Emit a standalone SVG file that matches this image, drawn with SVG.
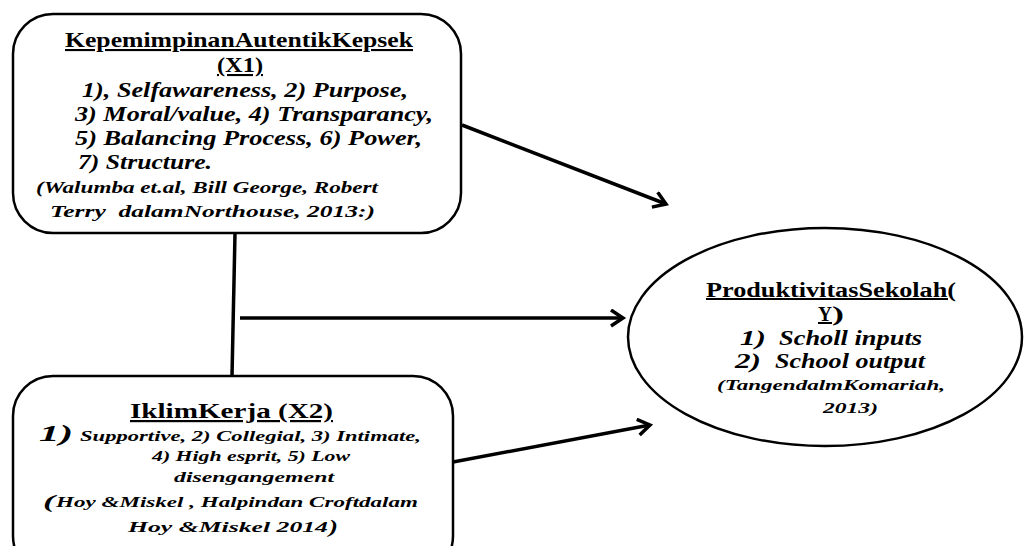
<svg xmlns="http://www.w3.org/2000/svg" width="1025" height="546" viewBox="0 0 1025 546">
<defs>
<marker id="ah" markerUnits="userSpaceOnUse" markerWidth="20" markerHeight="20" refX="14" refY="9" orient="auto">
<path d="M2,1 L14,9 L2,17" fill="none" stroke="#000" stroke-width="3.5"/>
</marker>
</defs>
<rect width="1025" height="546" fill="#fff"/>
<g id="connectors" fill="none" stroke="#000" stroke-width="3.5">
<line x1="235" y1="233" x2="232" y2="376"/>
<line x1="240" y1="318" x2="623" y2="318" marker-end="url(#ah)"/>
<line x1="462" y1="125" x2="666" y2="204" marker-end="url(#ah)"/>
<line x1="453" y1="462" x2="650" y2="425" marker-end="url(#ah)"/>
</g>
<g id="x1">
<rect x="13" y="14" width="448" height="219" rx="40" fill="#fff" stroke="#000" stroke-width="2.5"/>
<text x="65" y="47" font-family="Liberation Serif" font-weight="bold" font-size="21" text-decoration="underline" textLength="348" lengthAdjust="spacingAndGlyphs">KepemimpinanAutentikKepsek</text>
<text x="217" y="72" font-family="Liberation Serif" font-weight="bold" font-size="21" text-decoration="underline" textLength="46" lengthAdjust="spacingAndGlyphs">(X1)</text>
<text x="82" y="97" font-family="Liberation Serif" font-weight="bold" font-style="italic" font-size="20" textLength="326" lengthAdjust="spacingAndGlyphs">1), Selfawareness, 2) Purpose,</text>
<text x="75" y="121" font-family="Liberation Serif" font-weight="bold" font-style="italic" font-size="20" textLength="358" lengthAdjust="spacingAndGlyphs">3) Moral/value, 4) Transparancy,</text>
<text x="75" y="145" font-family="Liberation Serif" font-weight="bold" font-style="italic" font-size="20" textLength="347" lengthAdjust="spacingAndGlyphs">5) Balancing Process, 6) Power,</text>
<text x="78" y="169" font-family="Liberation Serif" font-weight="bold" font-style="italic" font-size="20" textLength="134" lengthAdjust="spacingAndGlyphs">7) Structure.</text>
<text x="36" y="193" font-family="Liberation Serif" font-weight="bold" font-style="italic" font-size="16" textLength="342" lengthAdjust="spacingAndGlyphs">(Walumba et.al, Bill George, Robert</text>
<text x="50" y="217" font-family="Liberation Serif" font-weight="bold" font-style="italic" font-size="16" textLength="325" lengthAdjust="spacingAndGlyphs" xml:space="preserve">Terry  dalamNorthouse, 2013:)</text>
</g>
<g id="x2">
<rect x="13" y="376" width="440" height="200" rx="40" fill="#fff" stroke="#000" stroke-width="2.5"/>
<text x="130" y="418" font-family="Liberation Serif" font-weight="bold" font-size="22" text-decoration="underline" textLength="203" lengthAdjust="spacingAndGlyphs">IklimKerja (X2)</text>
<text x="39" y="441" font-family="Liberation Serif" font-weight="bold" font-style="italic" font-size="24" textLength="34" lengthAdjust="spacingAndGlyphs">1)</text>
<text x="80" y="441" font-family="Liberation Serif" font-weight="bold" font-style="italic" font-size="15" textLength="341" lengthAdjust="spacingAndGlyphs">Supportive, 2) Collegial, 3) Intimate,</text>
<text x="152" y="461" font-family="Liberation Serif" font-weight="bold" font-style="italic" font-size="15" textLength="198" lengthAdjust="spacingAndGlyphs">4) High esprit, 5) Low</text>
<text x="174" y="482" font-family="Liberation Serif" font-weight="bold" font-style="italic" font-size="15" textLength="160" lengthAdjust="spacingAndGlyphs">disengangement</text>
<text x="43" y="508" font-family="Liberation Serif" font-weight="bold" font-style="italic" font-size="19" textLength="12" lengthAdjust="spacingAndGlyphs">(</text>
<text x="56" y="507" font-family="Liberation Serif" font-weight="bold" font-style="italic" font-size="15" textLength="362" lengthAdjust="spacingAndGlyphs">Hoy &amp;Miskel , Halpindan Croftdalam</text>
<text x="128" y="532" font-family="Liberation Serif" font-weight="bold" font-style="italic" font-size="15" textLength="200" lengthAdjust="spacingAndGlyphs">Hoy &amp;Miskel 2014</text>
<text x="329" y="533" font-family="Liberation Serif" font-weight="bold" font-style="italic" font-size="19" textLength="9" lengthAdjust="spacingAndGlyphs">)</text>
</g>
<g id="y">
<ellipse cx="825" cy="337" rx="197" ry="109" fill="#fff" stroke="#000" stroke-width="2.5"/>
<text x="706" y="297" font-family="Liberation Serif" font-weight="bold" font-size="20" text-decoration="underline" textLength="250" lengthAdjust="spacingAndGlyphs">ProduktivitasSekolah(</text>
<text x="818" y="321" font-family="Liberation Serif" font-weight="bold" font-size="20" text-decoration="underline" textLength="14" lengthAdjust="spacingAndGlyphs">Y</text>
<text x="832" y="321" font-family="Liberation Serif" font-weight="bold" font-size="20" textLength="12" lengthAdjust="spacingAndGlyphs">)</text>
<text x="740" y="345" font-family="Liberation Serif" font-weight="bold" font-style="italic" font-size="20" textLength="26" lengthAdjust="spacingAndGlyphs">1)</text>
<text x="779" y="345" font-family="Liberation Serif" font-weight="bold" font-style="italic" font-size="20" textLength="143" lengthAdjust="spacingAndGlyphs">Scholl inputs</text>
<text x="735" y="368" font-family="Liberation Serif" font-weight="bold" font-style="italic" font-size="20" textLength="26" lengthAdjust="spacingAndGlyphs">2)</text>
<text x="775" y="368" font-family="Liberation Serif" font-weight="bold" font-style="italic" font-size="20" textLength="150" lengthAdjust="spacingAndGlyphs">School output</text>
<text x="717" y="390" font-family="Liberation Serif" font-weight="bold" font-style="italic" font-size="15" textLength="228" lengthAdjust="spacingAndGlyphs">(TangendalmKomariah,</text>
<text x="823" y="413" font-family="Liberation Serif" font-weight="bold" font-style="italic" font-size="15" textLength="55" lengthAdjust="spacingAndGlyphs">2013)</text>
</g>
</svg>
